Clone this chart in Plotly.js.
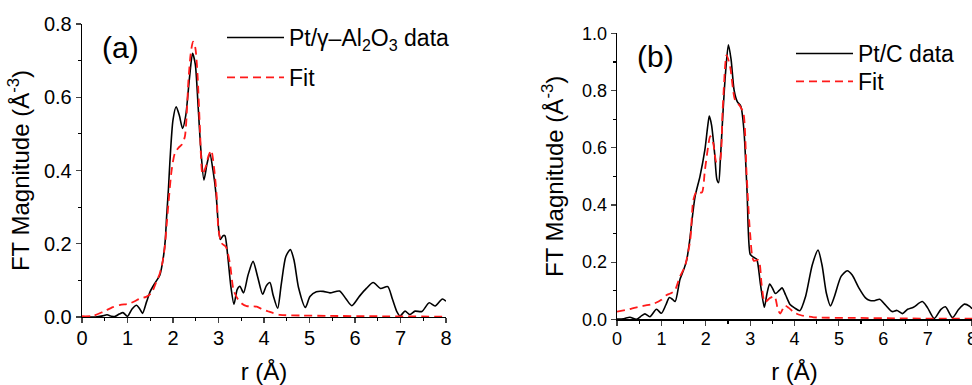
<!DOCTYPE html>
<html>
<head>
<meta charset="utf-8">
<script src="https://cdn.plot.ly/plotly-3.0.1.min.js"></script>
<style>html,body{margin:0;padding:0;background:#fff;}#chart{width:972px;height:385px;}</style>
</head>
<body>
<div id="chart"></div>
<script>
// ---- Panel (a): Pt/γ-Al2O3 ----
const rA_data = [0,0.3,0.45,0.55,0.65,0.72,0.82,0.9,1.0,1.1,1.2,1.27,1.33,1.42,1.5,1.6,1.71,1.79,1.83,1.86,1.9,1.93,2.0,2.07,2.14,2.21,2.28,2.36,2.43,2.49,2.55,2.61,2.68,2.75,2.81,2.88,2.95,3.0,3.04,3.1,3.14,3.2,3.27,3.34,3.41,3.47,3.55,3.65,3.76,3.86,3.97,4.05,4.13,4.2,4.3,4.38,4.48,4.58,4.66,4.76,4.91,5.01,5.15,5.3,5.45,5.66,5.8,5.93,6.1,6.25,6.4,6.56,6.72,6.82,6.92,6.99,7.1,7.2,7.32,7.47,7.63,7.76,7.92,8.0];
const vA_data = [0,0,0.003,0.006,0.002,0.001,0.008,0.012,0.002,0.022,0.032,0.022,0.01,0.042,0.07,0.092,0.114,0.165,0.21,0.274,0.35,0.42,0.538,0.574,0.55,0.515,0.55,0.65,0.72,0.69,0.58,0.46,0.374,0.42,0.446,0.4,0.33,0.245,0.212,0.222,0.222,0.17,0.085,0.035,0.075,0.084,0.066,0.115,0.152,0.11,0.062,0.085,0.094,0.06,0.024,0.09,0.165,0.184,0.155,0.08,0.026,0.056,0.069,0.07,0.066,0.071,0.05,0.031,0.057,0.078,0.094,0.078,0.083,0.05,0.015,0.003,0.016,0.007,0.016,0.015,0.039,0.03,0.049,0.043];
const rA_fit = [0,0.24,0.46,0.68,0.84,1.05,1.27,1.41,1.53,1.63,1.71,1.77,1.82,1.86,1.9,1.97,2.04,2.12,2.19,2.26,2.34,2.39,2.44,2.49,2.54,2.59,2.65,2.72,2.78,2.84,2.9,2.96,3.0,3.07,3.16,3.25,3.33,3.42,3.51,3.62,3.72,3.84,3.95,4.1,4.35,4.86,5.45,6.5,8.0];
const vA_fit = [0.002,0.003,0.014,0.027,0.033,0.037,0.05,0.055,0.066,0.095,0.119,0.15,0.192,0.25,0.31,0.401,0.447,0.462,0.47,0.492,0.647,0.72,0.752,0.735,0.66,0.52,0.39,0.41,0.44,0.455,0.41,0.33,0.238,0.201,0.192,0.147,0.074,0.05,0.037,0.03,0.029,0.028,0.022,0.015,0.006,0.004,0.003,0.002,0.001];

// ---- Panel (b): Pt/C ----
const rB_data = [0,0.15,0.29,0.44,0.55,0.63,0.74,0.89,1.0,1.1,1.18,1.25,1.31,1.42,1.5,1.57,1.63,1.7,1.76,1.87,1.98,2.04,2.08,2.13,2.2,2.25,2.29,2.33,2.38,2.44,2.51,2.57,2.64,2.71,2.79,2.86,2.93,3.0,3.05,3.1,3.15,3.23,3.32,3.38,3.44,3.5,3.57,3.65,3.72,3.8,3.9,4.0,4.12,4.25,4.4,4.53,4.62,4.72,4.81,4.9,5.05,5.19,5.3,5.45,5.6,5.7,5.8,5.92,6.05,6.2,6.31,6.43,6.55,6.68,6.88,7.0,7.15,7.3,7.4,7.56,7.7,7.83,7.95,8.0];
const vB_data = [0.001,0.002,0.007,0.0,0.012,0.019,0.009,0.035,0.021,0.05,0.076,0.07,0.062,0.14,0.172,0.207,0.266,0.36,0.43,0.5,0.592,0.67,0.711,0.68,0.58,0.49,0.478,0.56,0.7,0.85,0.96,0.91,0.8,0.761,0.745,0.662,0.45,0.228,0.22,0.215,0.21,0.126,0.042,0.09,0.123,0.11,0.09,0.1,0.11,0.085,0.052,0.04,0.03,0.08,0.19,0.242,0.19,0.09,0.047,0.08,0.15,0.17,0.155,0.11,0.075,0.066,0.065,0.07,0.05,0.027,0.031,0.02,0.035,0.042,0.062,0.04,0.003,0.035,0.044,0.006,0.035,0.053,0.045,0.037];
const rB_fit = [0,0.29,0.59,0.82,1.0,1.12,1.2,1.3,1.42,1.53,1.65,1.72,1.8,1.91,1.98,2.05,2.1,2.17,2.24,2.31,2.38,2.47,2.55,2.66,2.77,2.85,2.92,3.0,3.08,3.19,3.26,3.33,3.45,3.55,3.63,3.68,3.78,3.87,3.98,4.13,4.43,5.33,6.5,8.0];
const vB_fit = [0.027,0.036,0.047,0.054,0.068,0.085,0.09,0.1,0.15,0.185,0.277,0.417,0.448,0.443,0.52,0.6,0.64,0.615,0.55,0.55,0.73,0.924,0.883,0.767,0.746,0.72,0.51,0.3,0.205,0.207,0.12,0.06,0.075,0.08,0.032,0.02,0.048,0.04,0.025,0.015,0.007,0.005,0.003,0.002];

const xTicks = [0,1,2,3,4,5,6,7,8];
const labelA = 'Pt/γ–Al<sub>2</sub>O<sub>3</sub> data';
const labelB = 'Pt/C data';
const labelFit = 'Fit';
const yTitle = 'FT Magnitude (Å<sup>-3</sup>)';
const xTitle = 'r (Å)';

const FONT = 'Arial, "Liberation Sans", sans-serif';
const blackLine = {color:'#000000', width:1.6, shape:'spline', smoothing:0.7};
const redLine = {color:'#ff1a1a', width:1.8, dash:'8px,5px', shape:'spline', smoothing:0.7};

const traces = [
  {x:rA_data, y:vA_data, type:'scatter', mode:'lines', name:labelA, line:blackLine, xaxis:'x', yaxis:'y', legend:'legend'},
  {x:rA_fit, y:vA_fit, type:'scatter', mode:'lines', name:labelFit, line:redLine, xaxis:'x', yaxis:'y', legend:'legend2'},
  {x:rB_data, y:vB_data, type:'scatter', mode:'lines', name:labelB, line:blackLine, xaxis:'x2', yaxis:'y2', legend:'legend3'},
  {x:rB_fit, y:vB_fit, type:'scatter', mode:'lines', name:labelFit, line:redLine, xaxis:'x2', yaxis:'y2', legend:'legend4'}
];

function xax(domain, anchor, fs, tfs, so){
  return {
    domain:domain, anchor:anchor, range:[0,8], tickvals:xTicks, ticks:'outside', ticklen:5, tickwidth:1.2,
    showline:true, linecolor:'#000', linewidth:1.3, showgrid:false, zeroline:false, mirror:false,
    ticklabeloverflow:'allow', ticklabelstandoff:-2,
    tickfont:{family:FONT, size:fs, color:'#000'},
    minor:{dtick:0.5, ticks:'outside', ticklen:3, tickwidth:1.2, tickcolor:'#000', showgrid:false},
    title:{text:xTitle, font:{family:FONT, size:tfs, color:'#000'}, standoff:so},
    fixedrange:true
  };
}
function yax(domain, anchor, rng, fs, tfs, so){
  return {
    domain:domain, anchor:anchor, range:rng, dtick:0.2, tick0:0, tickformat:'.1f', ticks:'outside', ticklen:5, tickwidth:1.2,
    showline:true, linecolor:'#000', linewidth:1.3, showgrid:false, zeroline:false,
    tickfont:{family:FONT, size:fs, color:'#000'},
    minor:{dtick:0.1, ticks:'outside', ticklen:3, tickwidth:1.2, tickcolor:'#000', showgrid:false},
    title:{text:yTitle, font:{family:FONT, size:tfs, color:'#000'}, standoff:so},
    fixedrange:true
  };
}
function leg(xpx, toppx){
  return {x:xpx/972, xanchor:'left', y:1-toppx/385, yanchor:'top', bgcolor:'rgba(0,0,0,0)', borderwidth:0,
          font:{family:FONT, size:23, color:'#000'}, itemwidth:57};
}

const layout = {
  width:972, height:385,
  margin:{l:0, r:0, t:0, b:0},
  paper_bgcolor:'#fff', plot_bgcolor:'#fff',
  font:{family:FONT, color:'#000'},
  showlegend:true,
  xaxis: xax([82/972, 446/972], 'y', 20, 24, 38),
  yaxis: yax([(385-317)/385, (385-24)/385], 'x', [0,0.8], 20, 24, 7),
  xaxis2: xax([617/972, 1.0], 'y2', 18, 24, 20),
  yaxis2: yax([(385-319.3)/385, (385-33.3)/385], 'x2', [0,1.0], 18, 24, 11),
  legend: leg(222, 16),
  legend2: leg(222, 56),
  legend3: leg(791, 32),
  legend4: leg(791, 60),
  annotations:[
    {text:'(a)', xref:'paper', yref:'paper', x:120/972, y:1-47/385, xanchor:'center', yanchor:'middle', showarrow:false, font:{family:FONT, size:30, color:'#000'}},
    {text:'(b)', xref:'paper', yref:'paper', x:655/972, y:1-57/385, xanchor:'center', yanchor:'middle', showarrow:false, font:{family:FONT, size:30, color:'#000'}}
  ]
};

Plotly.newPlot('chart', traces, layout, {staticPlot:true, displayModeBar:false});
</script>
</body>
</html>
